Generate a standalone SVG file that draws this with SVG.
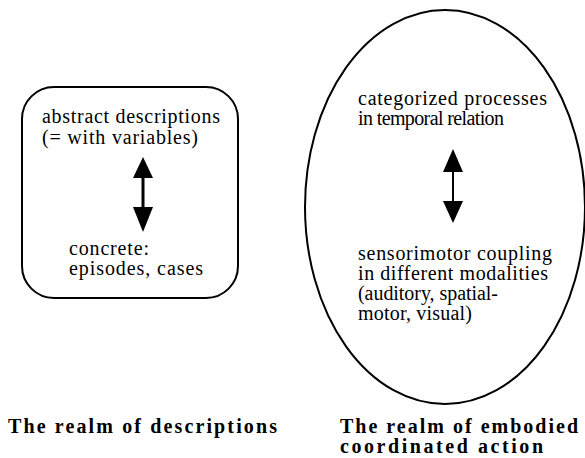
<svg xmlns="http://www.w3.org/2000/svg" width="585" height="458" viewBox="0 0 585 458">
<style>
text{font-family:'Liberation Serif','Times New Roman','DejaVu Serif',serif;font-size:20px;fill:#000}
.b{font-weight:bold}
.shape{fill:none;stroke:#000;stroke-width:2}
.ah{fill:#000;stroke:none}
</style>
<rect width="585" height="458" fill="#fff"/>
<g id="descriptions">
<rect class="shape" x="22" y="87" width="216" height="211" rx="32" ry="32"/>
<text x="42" y="123" textLength="178" lengthAdjust="spacing">abstract descriptions</text>
<text x="42" y="144" textLength="156" lengthAdjust="spacing">(= with variables)</text>
<text x="69" y="255" textLength="80" lengthAdjust="spacing">concrete:</text>
<text x="69" y="275" textLength="134" lengthAdjust="spacing">episodes, cases</text>
</g>
<g id="embodied">
<ellipse class="shape" cx="445" cy="207" rx="140" ry="197"/>
<text x="358" y="105" textLength="189" lengthAdjust="spacing">categorized processes</text>
<text x="358" y="125" textLength="146" lengthAdjust="spacing">in temporal relation</text>
<text x="358" y="260" textLength="194" lengthAdjust="spacing">sensorimotor coupling</text>
<text x="358" y="280" textLength="190" lengthAdjust="spacing">in different modalities</text>
<text x="358" y="300" textLength="140" lengthAdjust="spacing">(auditory, spatial-</text>
<text x="358" y="320" textLength="114" lengthAdjust="spacing">motor, visual)</text>
</g>
<g id="connectors">
<line x1="143" y1="176" x2="143" y2="210" stroke="#000" stroke-width="3"/>
<polygon class="ah" points="143,157 153,178 133,178"/>
<polygon class="ah" points="143,232 153,207 133,207"/>
<line x1="453" y1="170" x2="453" y2="203" stroke="#000" stroke-width="2"/>
<polygon class="ah" points="453,149 463,172 443,172"/>
<polygon class="ah" points="453,223 463,201 443,201"/>
</g>
<g id="labels">
<text class="b" x="8" y="433" textLength="269" lengthAdjust="spacing">The realm of descriptions</text>
<text class="b" x="340" y="433" textLength="238" lengthAdjust="spacing">The realm of embodied</text>
<text class="b" x="340" y="453" textLength="203" lengthAdjust="spacing">coordinated action</text>
</g>
</svg>
